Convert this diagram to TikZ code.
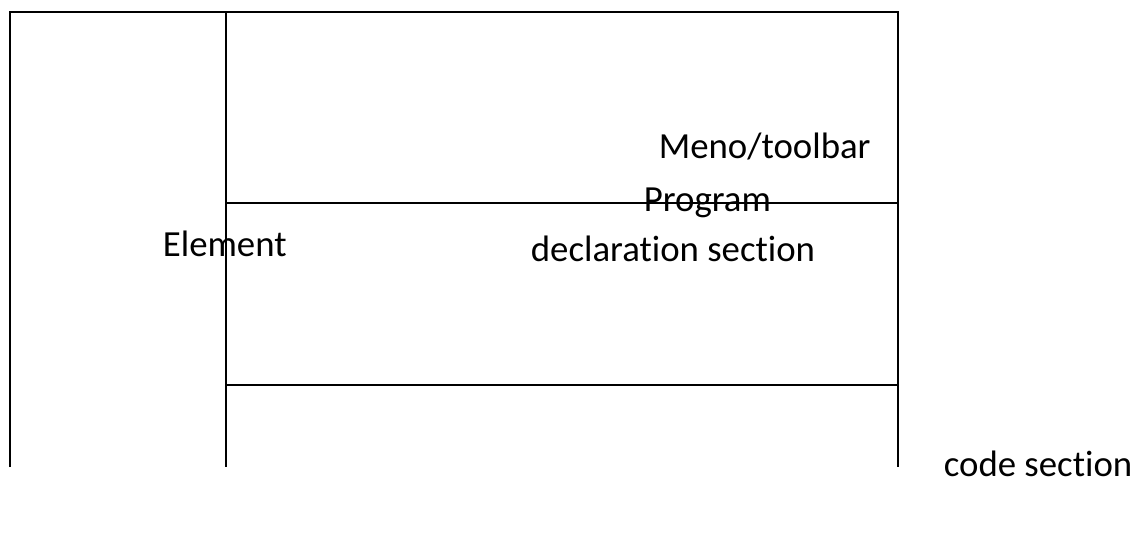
\documentclass[tikz,border=0pt]{standalone}
\usepackage{fontspec}
\setmainfont{Carlito}[Ligatures=NoCommon]
\usepackage{tikz}

\begin{document}
\begin{tikzpicture}[x=0.75pt,y=-0.75pt, line width=1.3pt,
    lbl/.style={anchor=base west, inner sep=0pt, font=\fontsize{27.6}{32}\selectfont}]
    \useasboundingbox (0,0) rectangle (1144,542);
    % frame corners
    \coordinate (tl) at (10,12);
    \coordinate (tm) at (226,12);
    \coordinate (tr) at (898,12);
    \coordinate (bl) at (10,467);
    \coordinate (bm) at (226,467);
    \coordinate (br) at (898,467);
    \coordinate (ml) at (226,203);
    \coordinate (mr) at (898,203);
    \coordinate (cl) at (226,385);
    \coordinate (cr) at (898,385);
    \draw (bl) -- (tl) -- (tr) -- (br);
    \draw (tm) -- (bm);
    \draw (ml) -- (mr);
    \draw (cl) -- (cr);
    % section labels
    \node[lbl] (menu) at (658,158) {Meno/toolbar};
    \node[lbl] (prog) at (643,211) {Program};
    \node[lbl] (decl) at (530,261) {declaration section};
    \node[lbl] (elem) at (162,256) {Element};
    \node[lbl] (code) at (943,476) {code section};
\end{tikzpicture}
\end{document}
